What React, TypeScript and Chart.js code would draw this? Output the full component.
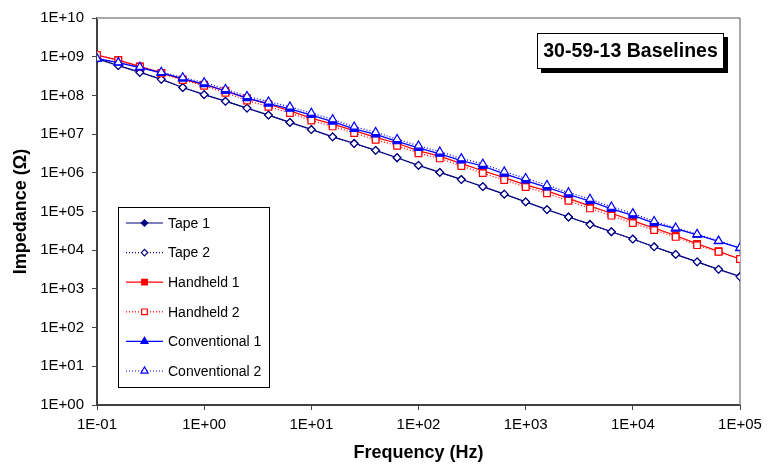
import { useEffect, useRef } from 'react';
import { Chart, registerables } from 'chart.js';

Chart.register(...registerables);

// ---- Data ----
const frequencies = [
  0.1, 0.158, 0.251, 0.398, 0.631, 1, 1.58, 2.51, 3.98, 6.31,
  10, 15.8, 25.1, 39.8, 63.1, 100, 158, 251, 398, 631,
  1000, 1580, 2510, 3980, 6310, 10000, 15800, 25100, 39800, 63100, 100000,
];

const tape1 = [
  8.9e8, 5.9e8, 4.0e8, 2.6e8, 1.6e8, 1.05e8, 7.1e7, 4.7e7, 3.1e7, 2.0e7,
  1.32e7, 8.5e6, 5.8e6, 3.8e6, 2.45e6, 1.55e6, 1.02e6, 6.8e5, 4.4e5, 2.8e5,
  1.78e5, 1.12e5, 7.2e4, 4.7e4, 3.0e4, 1.95e4, 1.23e4, 7.8e3, 5.0e3, 3.2e3, 2.1e3,
];
const tape2 = [
  8.8e8, 5.9e8, 3.9e8, 2.6e8, 1.6e8, 1.05e8, 7.0e7, 4.7e7, 3.1e7, 2.0e7,
  1.3e7, 8.5e6, 5.7e6, 3.8e6, 2.45e6, 1.55e6, 1.02e6, 6.7e5, 4.4e5, 2.8e5,
  1.77e5, 1.12e5, 7.2e4, 4.6e4, 3.0e4, 1.93e4, 1.22e4, 7.8e3, 5.0e3, 3.2e3, 2.05e3,
];
const handheld1 = [
  1.1e9, 8.2e8, 5.6e8, 3.8e8, 2.6e8, 1.9e8, 1.32e8, 8.5e7, 5.9e7, 4.0e7,
  2.6e7, 1.82e7, 1.23e7, 8.2e6, 5.8e6, 3.7e6, 2.7e6, 1.72e6, 1.13e6, 7.5e5,
  4.9e5, 3.4e5, 2.18e5, 1.38e5, 9.0e4, 5.7e4, 3.7e4, 2.4e4, 1.45e4, 9.4e3, 5.9e3,
];
const handheld2 = [
  1.1e9, 8.1e8, 5.5e8, 3.7e8, 2.5e8, 1.78e8, 1.17e8, 7.4e7, 5.1e7, 3.5e7,
  2.25e7, 1.58e7, 1.07e7, 7.1e6, 5.0e6, 3.2e6, 2.35e6, 1.5e6, 9.8e5, 6.5e5,
  4.3e5, 2.95e5, 1.9e5, 1.2e5, 7.8e4, 5.0e4, 3.3e4, 2.2e4, 1.35e4, 9.1e3, 5.9e3,
];
const conventional1 = [
  8.9e8, 7.0e8, 5.2e8, 3.8e8, 2.7e8, 1.95e8, 1.3e8, 8.5e7, 6.1e7, 4.5e7,
  3.1e7, 2.1e7, 1.36e7, 9.8e6, 6.5e6, 4.4e6, 3.1e6, 2.07e6, 1.5e6, 9.4e5,
  6.3e5, 4.2e5, 2.75e5, 1.85e5, 1.17e5, 7.9e4, 5.0e4, 3.6e4, 2.5e4, 1.7e4, 1.13e4,
];
const conventional2 = [
  8.9e8, 7.1e8, 5.4e8, 4.0e8, 2.9e8, 2.15e8, 1.45e8, 9.5e7, 6.9e7, 5.1e7,
  3.5e7, 2.4e7, 1.55e7, 1.12e7, 7.4e6, 5.0e6, 3.5e6, 2.35e6, 1.7e6, 1.07e6,
  7.2e5, 4.8e5, 3.1e5, 2.1e5, 1.32e5, 8.9e4, 5.6e4, 3.8e4, 2.6e4, 1.74e4, 1.15e4,
];

const seriesLabels = ['Tape 1', 'Tape 2', 'Handheld 1', 'Handheld 2', 'Conventional 1', 'Conventional 2'];

const yTickValues = [1, 10, 100, 1e3, 1e4, 1e5, 1e6, 1e7, 1e8, 1e9, 1e10];
const yTickLabels = ['1E+00', '1E+01', '1E+02', '1E+03', '1E+04', '1E+05', '1E+06', '1E+07', '1E+08', '1E+09', '1E+10'];
const xTickValues = [0.1, 1, 10, 100, 1000, 10000, 100000];
const xTickLabels = ['1E-01', '1E+00', '1E+01', '1E+02', '1E+03', '1E+04', '1E+05'];

const chartTitle = '30-59-13 Baselines';
const xTitle = 'Frequency (Hz)';
const yTitle = 'Impedance (\u03A9)';

const FONT = '"Liberation Sans", Arial, Helvetica, sans-serif';

const NAVY = '#000080';
const RED = '#FF0000';
const BLUE = '#0000FF';

type Sty = { color: string; dash: number[]; point: string; filled: boolean; radius: number };
const styles: Sty[] = [
  { color: NAVY, dash: [], point: 'rectRot', filled: true, radius: 3.8 },
  { color: NAVY, dash: [1, 2], point: 'rectRot', filled: false, radius: 3.8 },
  { color: RED, dash: [], point: 'rect', filled: true, radius: 4.7 },
  { color: RED, dash: [1, 2], point: 'rect', filled: false, radius: 4.7 },
  { color: BLUE, dash: [], point: 'triangle', filled: true, radius: 4.8 },
  { color: BLUE, dash: [1, 2], point: 'triangle', filled: false, radius: 4.8 },
];

function drawMarker(ctx: CanvasRenderingContext2D, style: string, x: number, y: number, r: number, fill: string, stroke: string) {
  ctx.beginPath();
  if (style === 'rect') {
    const s = r * Math.SQRT1_2;
    ctx.rect(x - s, y - s, 2 * s, 2 * s);
  } else if (style === 'rectRot') {
    ctx.moveTo(x - r, y);
    ctx.lineTo(x, y - r);
    ctx.lineTo(x + r, y);
    ctx.lineTo(x, y + r);
    ctx.closePath();
  } else {
    let rad = 0;
    ctx.moveTo(x + Math.sin(rad) * r, y - Math.cos(rad) * r);
    rad += (2 * Math.PI) / 3;
    ctx.lineTo(x + Math.sin(rad) * r, y - Math.cos(rad) * r);
    rad += (2 * Math.PI) / 3;
    ctx.lineTo(x + Math.sin(rad) * r, y - Math.cos(rad) * r);
    ctx.closePath();
  }
  ctx.fillStyle = fill;
  ctx.fill();
  ctx.lineWidth = 1.2;
  ctx.setLineDash([]);
  ctx.strokeStyle = stroke;
  ctx.stroke();
}

const framePlugin = {
  id: 'frame',
  beforeDatasetsDraw(chart: any) {
    const { ctx, chartArea } = chart;
    ctx.save();
    ctx.strokeStyle = '#a8a8a8';
    ctx.lineWidth = 2;
    ctx.beginPath();
    ctx.moveTo(chartArea.left, chartArea.top);
    ctx.lineTo(chartArea.right, chartArea.top);
    ctx.stroke();
    ctx.strokeStyle = '#8c8c8c';
    ctx.lineWidth = 1.5;
    ctx.beginPath();
    ctx.moveTo(chartArea.right, chartArea.top);
    ctx.lineTo(chartArea.right, chartArea.bottom);
    ctx.stroke();
    ctx.restore();
  },
};

const boxesPlugin = {
  id: 'boxes',
  afterDraw(chart: any) {
    const { ctx } = chart;
    ctx.save();
    // Title box with shadow
    const tx = 537, ty = 33, tw = 187, th = 36;
    ctx.fillStyle = '#000';
    ctx.fillRect(tx + 4, ty + 4, tw, th);
    ctx.fillStyle = '#fff';
    ctx.fillRect(tx, ty, tw, th);
    ctx.strokeStyle = '#000';
    ctx.lineWidth = 1;
    ctx.strokeRect(tx + 0.5, ty + 0.5, tw - 1, th - 1);
    ctx.fillStyle = '#000';
    ctx.font = `bold 19.5px ${FONT}`;
    ctx.textAlign = 'center';
    ctx.textBaseline = 'middle';
    ctx.fillText(chartTitle, tx + tw / 2, ty + th / 2 + 1);

    // Legend
    const lx = 118, ly = 207, lw = 152, lh = 181;
    ctx.fillStyle = '#fff';
    ctx.fillRect(lx, ly, lw, lh);
    ctx.strokeStyle = '#000';
    ctx.lineWidth = 1;
    ctx.strokeRect(lx + 0.5, ly + 0.5, lw - 1, lh - 1);
    ctx.font = `14px ${FONT}`;
    ctx.textAlign = 'left';
    ctx.textBaseline = 'middle';
    chart.data.datasets.forEach((ds: any, i: number) => {
      const st = styles[i];
      const y = 223 + i * 29.6;
      ctx.save();
      ctx.strokeStyle = st.color;
      ctx.lineWidth = 1.2;
      ctx.setLineDash(st.dash);
      ctx.beginPath();
      ctx.moveTo(126, y);
      ctx.lineTo(163, y);
      ctx.stroke();
      ctx.restore();
      drawMarker(ctx, st.point, 144.5, y, st.radius * 0.85, st.filled ? st.color : '#fff', st.color);
      ctx.fillStyle = '#000';
      ctx.fillText(ds.label, 168, y + 1);
    });
    ctx.restore();
  },
};

export default function App() {
  const ref = useRef<HTMLCanvasElement | null>(null);

  useEffect(() => {
    document.body.style.margin = '0';
    const canvas = ref.current;
    if (!canvas) return;
    const seriesValues = [tape1, tape2, handheld1, handheld2, conventional1, conventional2];
    const datasets = seriesValues.map((vals, i) => {
      const st = styles[i];
      return {
        label: seriesLabels[i],
        data: vals.map((v, j) => ({ x: frequencies[j], y: v })),
        borderColor: st.color,
        backgroundColor: st.color,
        borderWidth: 1.25,
        borderDash: st.dash,
        pointStyle: st.point,
        pointRadius: st.radius,
        pointBorderWidth: 1.2,
        pointBorderColor: st.color,
        pointBackgroundColor: st.filled ? st.color : '#fff',
        fill: false,
        tension: 0,
        order: 10 - i,
      };
    });

    const chart = new Chart(canvas, {
      type: 'line',
      data: { datasets },
      options: {
        responsive: false,
        animation: false,
        devicePixelRatio: 1,
        layout: { padding: { top: 18, right: 35, left: 0, bottom: 0 } },
        plugins: {
          legend: { display: false },
          tooltip: { enabled: false },
          title: { display: false },
        },
        scales: {
          x: {
            type: 'logarithmic',
            min: 0.1,
            max: 100000,
            afterBuildTicks: (scale: any) => {
              scale.ticks = xTickValues.map((v) => ({ value: v }));
            },
            afterFit: (scale: any) => {
              scale.height = 59;
            },
            ticks: {
              autoSkip: false,
              maxRotation: 0,
              padding: 6,
              color: '#000',
              font: { family: FONT, size: 15 },
              callback: (v: any) => {
                const idx = xTickValues.findIndex((t) => Math.abs(Math.log10(t) - Math.log10(Number(v))) < 1e-6);
                return idx >= 0 ? xTickLabels[idx] : '';
              },
            },
            grid: { drawOnChartArea: false, drawTicks: true, tickLength: 5, color: '#404040', lineWidth: 1 },
            border: { display: true, color: '#404040', width: 2 },
            title: {
              display: true,
              text: xTitle,
              color: '#000',
              font: { family: FONT, size: 18, weight: 'bold' },
              padding: { top: 0, bottom: 0 },
            },
          },
          y: {
            type: 'logarithmic',
            min: 1,
            max: 1e10,
            afterBuildTicks: (scale: any) => {
              scale.ticks = yTickValues.map((v) => ({ value: v }));
            },
            afterFit: (scale: any) => {
              scale.width = 97;
            },
            ticks: {
              autoSkip: false,
              padding: 8,
              color: '#000',
              font: { family: FONT, size: 15 },
              callback: (v: any) => {
                const idx = yTickValues.findIndex((t) => Math.abs(Math.log10(t) - Math.log10(Number(v))) < 1e-6);
                return idx >= 0 ? yTickLabels[idx] : '';
              },
            },
            grid: { drawOnChartArea: false, drawTicks: true, tickLength: 5, color: '#404040', lineWidth: 1 },
            border: { display: true, color: '#404040', width: 2 },
            title: {
              display: true,
              text: yTitle,
              color: '#000',
              font: { family: FONT, size: 18, weight: 'bold' },
              padding: { top: 10, bottom: 0 },
            },
          },
        },
      },
      plugins: [framePlugin, boxesPlugin],
    } as any);

    return () => {
      chart.destroy();
    };
  }, []);

  return (
    <div style={{ width: 775, height: 464 }}>
      <canvas ref={ref} width={775} height={464} style={{ display: 'block' }} />
    </div>
  );
}
